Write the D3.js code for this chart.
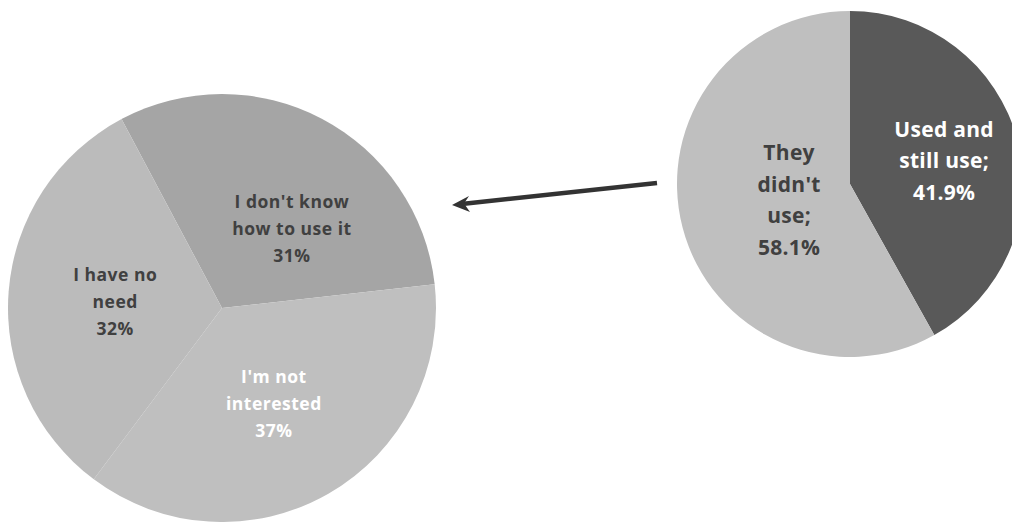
<!DOCTYPE html>
<html>
<head>
<meta charset="utf-8">
<script src="https://cdn.jsdelivr.net/npm/d3@7"></script>
<style>
  html, body { margin: 0; padding: 0; background: #fff; }
  svg { display: block; }
  text { font-family: "Open Sans", "Liberation Sans", sans-serif; font-weight: bold; }
</style>
</head>
<body>
<svg id="chart" width="1012" height="522"></svg>
<script>
// ---- data ----
const reasonCategories = ["I don't know how to use it", "I'm not interested", "I have no need"];
const reasonValues = [31, 37, 32];
const reasonLabelLines = [["I don't know", "how to use it", "31%"], ["I'm not", "interested", "37%"], ["I have no", "need", "32%"]];

const usageCategories = ["Used and still use", "They didn't use"];
const usageValues = [41.9, 58.1];
const usageLabelLines = [["Used and", "still use;", "41.9%"], ["They", "didn't", "use;", "58.1%"]];

// ---- styling / layout ----
const reasonColors = ["#a5a5a5", "#bfbfbf", "#bbbbbb"];
const reasonTextColors = ["#404040", "#ffffff", "#404040"];
const usageColors = ["#595959", "#bfbfbf"];
const usageTextColors = ["#ffffff", "#404040"];

const deg = Math.PI / 180;
const svg = d3.select("#chart");

function drawPie(cfg) {
  const pie = d3.pie().sort(null).value(d => d.v)
    .startAngle(cfg.start).endAngle(cfg.start + 2 * Math.PI);
  const arc = d3.arc().innerRadius(0).outerRadius(cfg.r);
  const data = cfg.cats.map((c, i) => ({ c, v: cfg.vals[i], i }));
  const g = svg.append("g").attr("transform", `translate(${cfg.cx},${cfg.cy})`);
  const arcs = pie(data);
  g.selectAll("path").data(arcs).join("path")
    .attr("d", arc)
    .attr("fill", d => cfg.colors[d.data.i]);
  arcs.forEach((a, k) => {
    const lines = cfg.lines[k];
    const ang = cfg.labelAng[k] * deg;
    const rr = cfg.labelR[k] * cfg.r;
    const x = rr * Math.sin(ang);
    const y = -rr * Math.cos(ang);
    const n = lines.length;
    const t = g.append("text")
      .attr("text-anchor", "middle")
      .attr("font-size", cfg.fs)
      .attr("letter-spacing", cfg.ls)
      .attr("fill", cfg.textColors[k]);
    lines.forEach((ln, j) => {
      t.append("tspan")
        .attr("x", x)
        .attr("y", y - (n - 1) / 2 * cfg.lh + j * cfg.lh + cfg.fs * 0.35)
        .text(ln);
    });
  });
}

const left = { cx: 222, cy: 308, r: 214 };
const right = { cx: 850, cy: 184, r: 173 };

drawPie({
  ...left, start: -28 * deg, cats: reasonCategories, vals: reasonValues,
  colors: reasonColors, textColors: reasonTextColors, lines: reasonLabelLines,
  labelAng: [41.5, 151.6, 273.2], labelR: [0.493, 0.51, 0.5], fs: 17.5, lh: 27, ls: 0.5
});

drawPie({
  ...right, start: 0, cats: usageCategories, vals: usageValues,
  colors: usageColors, textColors: usageTextColors, lines: usageLabelLines,
  labelAng: [76.3, 255.3], labelR: [0.56, 0.364], fs: 21, lh: 31.5, ls: 0.3
});

// ---- arrow annotation ----
const ax1 = right.cx - right.r - 20, ay1 = 183;
const ax2 = left.cx + left.r + 16, ay2 = 205;
svg.append("line")
  .attr("x1", ax1).attr("y1", ay1)
  .attr("x2", ax2 + 12).attr("y2", ay2 - 1.2)
  .attr("stroke", "#333").attr("stroke-width", 4.5);
svg.append("path")
  .attr("d", `M${ax2},${ay2} L${ax2 + 17},${ay2 - 9} L${ax2 + 12},${ay2 - 1.5} L${ax2 + 18},${ay2 + 7} Z`)
  .attr("fill", "#333");
</script>
</body>
</html>
